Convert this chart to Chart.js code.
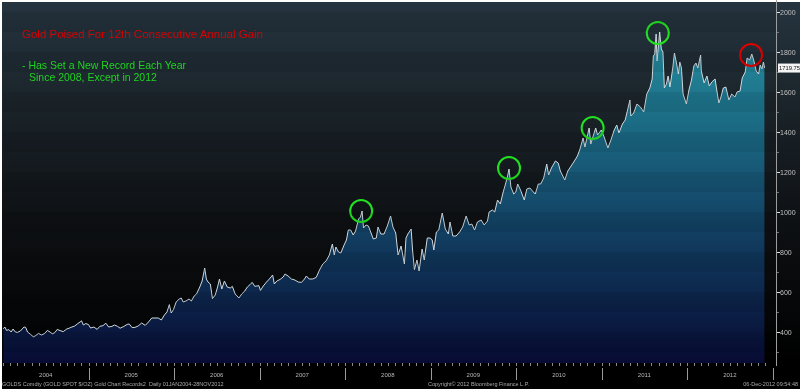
<!DOCTYPE html>
<html><head><meta charset="utf-8">
<script src="https://cdn.jsdelivr.net/npm/chart.js@4.4.0/dist/chart.umd.min.js"></script>
<style>
html,body{margin:0;padding:0;background:#fff;}
#wrap{position:relative;width:800px;height:389px;overflow:hidden;}
canvas{position:absolute;left:0;top:0;}
.t{position:absolute;white-space:pre;font-family:"Liberation Sans",Arial,sans-serif;line-height:1;}
</style></head><body>
<div id="wrap">
<canvas id="c" width="800" height="389"></canvas>
<div class="t" style="left:22px;top:29px;font-size:11.5px;color:#d80000;">Gold Poised For 12th Consecutive Annual Gain</div>
<div class="t" style="left:22px;top:59.5px;font-size:10.5px;color:#1fd41f;">- Has Set a New Record Each Year</div>
<div class="t" style="left:29px;top:71.5px;font-size:10.5px;color:#1fd41f;">Since 2008, Except in 2012</div>
<div class="t" style="left:2px;top:381.5px;font-size:5.5px;color:#aaa;">GOLDS Comdty (GOLD SPOT $/OZ) Gold Chart Records2  Daily 01JAN2004-28NOV2012</div>
<div class="t" style="left:428px;top:381.5px;font-size:5.5px;color:#aaa;">Copyright© 2012 Bloomberg Finance L.P.</div>
<div class="t" style="right:2px;top:381.5px;font-size:5.5px;color:#aaa;">06-Dec-2012 09:54:48</div>
</div>
<script>
// ---- data ----
const dates = [
'2004-01-02','2004-01-09','2004-01-16','2004-01-26','2004-02-05','2004-02-13','2004-02-23','2004-03-03','2004-03-15','2004-03-31',
'2004-04-07','2004-04-15','2004-04-28','2004-05-10','2004-05-20','2004-06-01','2004-06-14','2004-06-28','2004-07-09','2004-07-20',
'2004-07-30','2004-08-10','2004-08-20','2004-09-01','2004-09-15','2004-09-30','2004-10-12','2004-10-22','2004-11-03','2004-11-16',
'2004-11-26','2004-12-02','2004-12-10','2004-12-20','2004-12-31',
'2005-01-10','2005-01-24','2005-02-07','2005-02-18','2005-03-04','2005-03-16','2005-03-28','2005-04-11','2005-04-22','2005-05-05',
'2005-05-16','2005-06-01','2005-06-15','2005-06-24','2005-07-06','2005-07-18','2005-08-01','2005-08-16','2005-08-31','2005-09-14',
'2005-09-28','2005-10-12','2005-10-26','2005-11-08','2005-11-21','2005-12-02','2005-12-12','2005-12-20','2005-12-30',
'2006-01-10','2006-01-23','2006-02-01','2006-02-09','2006-02-21','2006-03-06','2006-03-16','2006-03-28','2006-04-07','2006-04-21',
'2006-05-01','2006-05-12','2006-05-19','2006-05-26','2006-06-05','2006-06-14','2006-06-26','2006-07-06','2006-07-14','2006-07-24',
'2006-08-04','2006-08-16','2006-08-29','2006-09-07','2006-09-19','2006-10-05','2006-10-17','2006-10-30','2006-11-10','2006-11-24',
'2006-12-01','2006-12-12','2006-12-29',
'2007-01-05','2007-01-17','2007-01-31','2007-02-12','2007-02-26','2007-03-05','2007-03-16','2007-03-30','2007-04-12','2007-04-20',
'2007-05-03','2007-05-17','2007-06-01','2007-06-15','2007-06-29','2007-07-12','2007-07-20','2007-08-01','2007-08-16','2007-08-31',
'2007-09-14','2007-09-28','2007-10-12','2007-10-26','2007-11-08','2007-11-16','2007-11-23','2007-12-04','2007-12-14','2007-12-28',
'2008-01-07','2008-01-15','2008-01-25','2008-02-05','2008-02-15','2008-02-28','2008-03-07','2008-03-14','2008-03-20','2008-03-31',
'2008-04-10','2008-04-23','2008-05-01','2008-05-14','2008-05-21','2008-06-02','2008-06-16','2008-06-30','2008-07-14','2008-07-24',
'2008-08-05','2008-08-15','2008-08-28','2008-09-11','2008-09-18','2008-09-26','2008-10-10','2008-10-16','2008-10-24','2008-11-04',
'2008-11-13','2008-11-26','2008-12-05','2008-12-18','2008-12-31',
'2009-01-08','2009-01-15','2009-01-26','2009-02-05','2009-02-20','2009-03-05','2009-03-18','2009-03-25','2009-04-06','2009-04-20',
'2009-05-05','2009-05-18','2009-06-02','2009-06-15','2009-06-26','2009-07-08','2009-07-20','2009-08-05','2009-08-18','2009-09-01',
'2009-09-08','2009-09-22','2009-10-02','2009-10-14','2009-10-26','2009-11-06','2009-11-17','2009-11-25','2009-12-02','2009-12-10',
'2009-12-22','2009-12-31',
'2010-01-08','2010-01-20','2010-02-05','2010-02-16','2010-03-01','2010-03-12','2010-03-24','2010-04-06','2010-04-16','2010-04-29',
'2010-05-12','2010-05-20','2010-06-01','2010-06-18','2010-06-30','2010-07-09','2010-07-28','2010-08-10','2010-08-24','2010-09-07',
'2010-09-20','2010-10-01','2010-10-14','2010-10-22','2010-11-09','2010-11-16','2010-11-25','2010-12-07','2010-12-15','2010-12-31',
'2011-01-12','2011-01-28','2011-02-10','2011-02-24','2011-03-07','2011-03-16','2011-03-31','2011-04-12','2011-04-20','2011-05-02',
'2011-05-06','2011-05-18','2011-06-01','2011-06-16','2011-06-30','2011-07-13','2011-07-26','2011-08-05','2011-08-10','2011-08-16',
'2011-08-22','2011-08-26','2011-09-06','2011-09-13','2011-09-20','2011-09-26','2011-10-05','2011-10-12','2011-10-20','2011-11-01',
'2011-11-08','2011-11-16','2011-11-25','2011-12-01','2011-12-08','2011-12-15','2011-12-29',
'2012-01-09','2012-01-20','2012-01-30','2012-02-08','2012-02-16','2012-02-28','2012-03-02','2012-03-14','2012-03-26','2012-04-05',
'2012-04-16','2012-04-30','2012-05-09','2012-05-16','2012-05-25','2012-06-04','2012-06-15','2012-06-28','2012-07-10','2012-07-24',
'2012-08-02','2012-08-15','2012-08-24','2012-09-06','2012-09-14','2012-09-25','2012-10-04','2012-10-12','2012-10-23','2012-11-02',
'2012-11-09','2012-11-16','2012-11-23','2012-11-28'
];
const prices = [
416,425,408,412,400,415,400,398,405,425,
423,400,388,376,382,393,385,393,408,400,
391,397,413,407,402,415,420,425,430,442,
450,456,435,442,438,
420,425,413,428,432,444,425,428,435,428,
419,428,438,440,422,423,430,445,433,450,
470,470,470,460,485,500,537,495,513,
550,565,570,550,555,565,555,580,590,625,
655,720,665,650,640,567,585,625,665,615,
655,625,620,628,590,570,590,605,625,640,
648,628,632,
608,630,650,665,685,640,655,663,675,690,
680,665,660,650,648,665,680,665,665,673,
710,740,755,785,840,785,825,800,795,835,
860,910,910,885,905,965,975,1005,920,935,
930,890,865,870,925,890,890,930,980,925,
895,785,830,740,870,890,915,810,712,760,
705,815,760,870,870,
860,810,900,910,995,915,890,950,880,880,
900,925,980,935,940,910,950,960,935,955,
1000,1010,1000,1060,1040,1095,1140,1175,1215,1125,
1090,1100,
1140,1110,1060,1115,1120,1105,1090,1140,1140,1170,
1240,1185,1220,1255,1245,1205,1160,1205,1230,1255,
1280,1315,1370,1325,1420,1340,1375,1420,1385,1410,
1375,1320,1360,1410,1435,1395,1440,1460,1500,1560,
1480,1495,1540,1525,1500,1590,1620,1665,1780,1790,
1890,1755,1900,1815,1800,1620,1640,1680,1625,1720,
1795,1750,1690,1750,1720,1590,1540,
1610,1660,1730,1745,1720,1785,1705,1645,1680,1630,
1650,1665,1595,1545,1575,1620,1625,1560,1590,1575,
1600,1605,1670,1700,1770,1760,1790,1760,1705,1690,
1735,1715,1750,1720
];
const lastPrice = 1719.75;
const yTicks = [300,400,500,600,700,800,900,1000,1100,1200,1300,1400,1500,1600,1700,1800,1900,2000];
const yearLabels = ['2004','2005','2006','2007','2008','2009','2010','2011','2012'];
const circleDates = ['2008-03-10','2009-12-02','2010-11-24','2011-08-29','2012-10-01'];
const circleValues = [1005,1220,1420,1895,1785];
const circleColors = ['#22e022','#22e022','#22e022','#22e022','#e00000'];

// ---- helpers ----
function toYear(s){
  const d = Date.parse(s+'T00:00:00Z');
  const y = +s.slice(0,4);
  const a = Date.UTC(y,0,1), b = Date.UTC(y+1,0,1);
  return y + (d-a)/(b-a);
}
const series = dates.map((d,i)=>({x:toYear(d), y:prices[i]}));
const circles = circleDates.map((d,i)=>({x:toYear(d), y:circleValues[i]}));
const firstYear = +yearLabels[0];
const lastYear = +yearLabels[yearLabels.length-1];
const FONT = '"Liberation Sans", Arial, sans-serif';

const bgPlugin = {
  id:'bg',
  beforeDraw(chart){
    const {ctx, chartArea:ca, width, height} = chart;
    ctx.save();
    ctx.fillStyle = '#ffffff';
    ctx.fillRect(0,0,width,height);
    ctx.fillStyle = '#000000';
    ctx.fillRect(2,2,width-2,height-2);
    const g = ctx.createLinearGradient(0,2,0,ca.bottom);
    g.addColorStop(0,'#25343f');
    g.addColorStop(0.3,'#1a2329');
    g.addColorStop(0.6,'#0e1114');
    g.addColorStop(1,'#000000');
    ctx.fillStyle = g;
    ctx.fillRect(2,2,width-2,ca.bottom-2);
    ctx.restore();
  },
  afterDatasetsDraw(chart){
    const {ctx, chartArea:ca, scales} = chart;
    const ys = scales.y;
    ctx.save();
    ctx.fillStyle = 'rgba(0,0,0,0.07)';
    for (let i=0;i<yTicks.length;i+=2){
      const v = yTicks[i];
      const y1 = ys.getPixelForValue(v+100), y0 = ys.getPixelForValue(v);
      const top = Math.max(ca.top,y1), bot = Math.min(ca.bottom,y0);
      if (bot>top) ctx.fillRect(ca.left, top, ca.right-ca.left, bot-top);
    }
    ctx.restore();
  },
  afterDraw(chart){
    const {ctx, chartArea:ca, scales} = chart;
    const xs = scales.x, ys = scales.y;
    ctx.save();
    // monthly ticks along the bottom of the plot
    ctx.strokeStyle = '#8a8a8a';
    ctx.lineWidth = 1;
    ctx.beginPath();
    for (let y=firstYear; y<=lastYear; y++){
      for (let m=0;m<12;m++){
        const px = Math.round(xs.getPixelForValue(y+m/12))+0.5;
        ctx.moveTo(px, ca.bottom); ctx.lineTo(px, ca.bottom+3);
      }
    }
    ctx.stroke();
    // year dividers
    ctx.strokeStyle = '#9a9a9a';
    ctx.beginPath();
    for (let y=firstYear+1; y<=lastYear+1; y++){
      const px = Math.round(xs.getPixelForValue(y))+0.5;
      ctx.moveTo(px, ca.bottom+5); ctx.lineTo(px, ca.bottom+17);
    }
    ctx.stroke();
    // year labels
    ctx.fillStyle = '#b8b8b8';
    ctx.font = '6px ' + FONT;
    ctx.textAlign = 'center';
    ctx.textBaseline = 'middle';
    yearLabels.forEach(l=>{
      ctx.fillText(l, xs.getPixelForValue(+l+0.5), ca.bottom+12);
    });
    // right axis line, tick marks and labels
    ctx.strokeStyle = '#9c9c9c';
    ctx.beginPath();
    ctx.moveTo(ca.right+0.5, ca.top-3); ctx.lineTo(ca.right+0.5, ca.bottom+3);
    ctx.stroke();
    ctx.textAlign = 'left';
    ctx.font = '7px ' + FONT;
    yTicks.forEach(v=>{
      const py = Math.round(ys.getPixelForValue(v))+0.5;
      const major = v % 200 === 0;
      ctx.strokeStyle = major ? '#e0e0e0' : '#777';
      ctx.beginPath();
      ctx.moveTo(ca.right+1, py); ctx.lineTo(ca.right+(major?4:3), py);
      ctx.stroke();
      if (major){
        ctx.fillStyle = '#c0c0c0';
        ctx.fillText(String(v), ca.right+4, py+0.5);
      }
    });
    // last price tag
    const py = ys.getPixelForValue(lastPrice);
    ctx.fillStyle = '#f4f4f4';
    ctx.fillRect(ca.right+2, py-4.5, 23, 9);
    ctx.fillStyle = '#111';
    ctx.font = '5.8px ' + FONT;
    ctx.fillText(lastPrice.toFixed(2), ca.right+3, py+0.5);
    ctx.restore();
  }
};

new Chart(document.getElementById('c'), {
  type:'line',
  data:{
    datasets:[
      {
        data: circles,
        showLine:false,
        pointRadius:11,
        pointHoverRadius:11,
        pointBorderWidth:2,
        pointBackgroundColor:'rgba(0,0,0,0)',
        pointBorderColor: circleColors,
        clip:false,
        order:0
      },
      {
        data: series,
        borderColor:'#cfd8dd',
        borderWidth:1,
        pointRadius:0,
        tension:0,
        fill:'start',
        backgroundColor(ctx){
          const ca = ctx.chart.chartArea;
          if (!ca) return '#1a5a7a';
          const g = ctx.chart.ctx.createLinearGradient(0, ca.top, 0, ca.bottom);
          g.addColorStop(0,'#2a98a8');
          g.addColorStop(0.3,'#1c7088');
          g.addColorStop(0.6,'#134466');
          g.addColorStop(1,'#070b34');
          return g;
        },
        order:1
      }
    ]
  },
  options:{
    responsive:false,
    animation:false,
    devicePixelRatio:1,
    events:[],
    layout:{autoPadding:false, padding:{left:3,top:3,right:0,bottom:0}},
    plugins:{legend:{display:false}, tooltip:{enabled:false}, title:{display:false}},
    scales:{
      x:{
        type:'linear',
        min: firstYear,
        max: lastYear + 1.04,
        afterBuildTicks(s){ s.ticks = yearLabels.map(l=>({value:+l+0.5})); },
        afterFit(s){ s.height = 26; s.paddingLeft = 0; s.paddingRight = 0; },
        grid:{display:false},
        border:{display:false},
        ticks:{display:false}
      },
      y:{
        position:'right',
        min:245,
        max:2045,
        afterBuildTicks(s){ s.ticks = yTicks.map(v=>({value:v})); },
        afterFit(s){ s.width = 24; s.paddingTop = 0; s.paddingBottom = 0; },
        grid:{display:false},
        border:{display:false},
        ticks:{display:false}
      }
    }
  },
  plugins:[bgPlugin]
});
</script>
</body></html>
